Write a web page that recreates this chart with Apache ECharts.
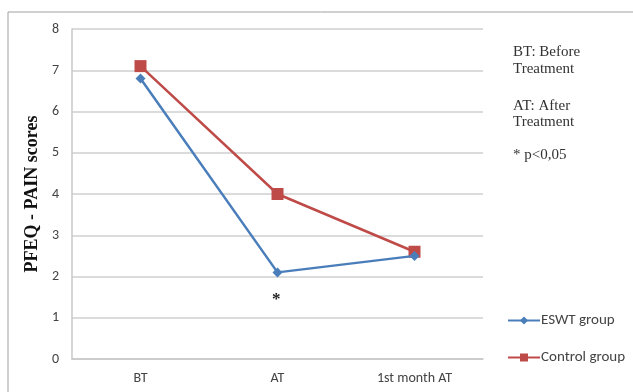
<!DOCTYPE html>
<html><head><meta charset="utf-8">
<script src="https://cdn.jsdelivr.net/npm/echarts@6/dist/echarts.min.js"></script>
<style>html,body{margin:0;padding:0;background:#fff}#c{width:633px;height:392px}</style>
</head><body><div id="c"></div>
<script>
const categories = ['BT', 'AT', '1st month AT'];
const eswt = [6.8, 2.1, 2.5];
const control = [7.1, 4.0, 2.6];
const yTicks = [0, 8, 1];
const notes = ['BT: Before\nTreatment', 'AT: After\nTreatment', '* p<0,05'];

const chart = echarts.init(document.getElementById('c'), null, {renderer: 'canvas'});
const sans = 'Carlito, "Open Sans", Lato, sans-serif';
const serif = '"Liberation Serif", "DejaVu Serif", serif';
chart.setOption({
  animation: false,
  grid: {left: 72, top: 29, width: 411, height: 330, containLabel: false},
  xAxis: {
    type: 'category', data: categories, boundaryGap: true,
    axisLine: {lineStyle: {color: '#c8c8c8', width: 1.5}},
    axisTick: {show: false},
    axisLabel: {color: '#444', fontFamily: sans, fontSize: 14, margin: 12}
  },
  yAxis: {
    type: 'value', min: yTicks[0], max: yTicks[1], interval: yTicks[2],
    name: 'PFEQ - PAIN scores', nameLocation: 'middle', nameGap: 20,
    nameTextStyle: {fontFamily: serif, fontWeight: 'bold', fontSize: 18, color: '#111'},
    axisLine: {show: true, lineStyle: {color: '#c8c8c8', width: 1.5}},
    axisTick: {show: false},
    splitLine: {lineStyle: {color: '#cfcfcf', width: 1.5}},
    axisLabel: {color: '#444', fontFamily: sans, fontSize: 14, margin: 13}
  },
  legend: {
    orient: 'vertical', left: 502, top: 308, itemGap: 22,
    itemWidth: 32, itemHeight: 10,
    textStyle: {fontFamily: sans, fontSize: 15, color: '#444', padding: [0,0,0,-4]},
    data: ['ESWT group', 'Control group']
  },
  series: [
    {name: 'ESWT group', type: 'line', data: eswt, symbol: 'diamond', symbolSize: 10,
     itemStyle: {color: '#4a7ebb'}, lineStyle: {color: '#4a7ebb', width: 2.5}, z: 3},
    {name: 'Control group', type: 'line', data: control, symbol: 'rect', symbolSize: 12,
     itemStyle: {color: '#be4b48'}, lineStyle: {color: '#be4b48', width: 2.5}, z: 2}
  ],
  graphic: [
    {type: 'line', shape: {x1: 8, y1: 12, x2: 633, y2: 12}, style: {stroke: '#a0a0a0', lineWidth: 1}},
    {type: 'line', shape: {x1: 8, y1: 12, x2: 8, y2: 392}, style: {stroke: '#a0a0a0', lineWidth: 1}},
    {type: 'text', left: 513, top: 44, style: {text: notes[0], font: '15px ' + serif, fill: '#333', lineHeight: 17}},
    {type: 'text', left: 513, top: 98, style: {text: notes[1], font: '15px ' + serif, fill: '#333', lineHeight: 16}},
    {type: 'text', left: 513, top: 148, style: {text: notes[2], font: '15px ' + serif, fill: '#333'}},
    {type: 'text', left: 272, top: 291, style: {text: '*', font: 'bold 17px ' + serif, fill: '#222'}}
  ]
});
</script></body></html>
